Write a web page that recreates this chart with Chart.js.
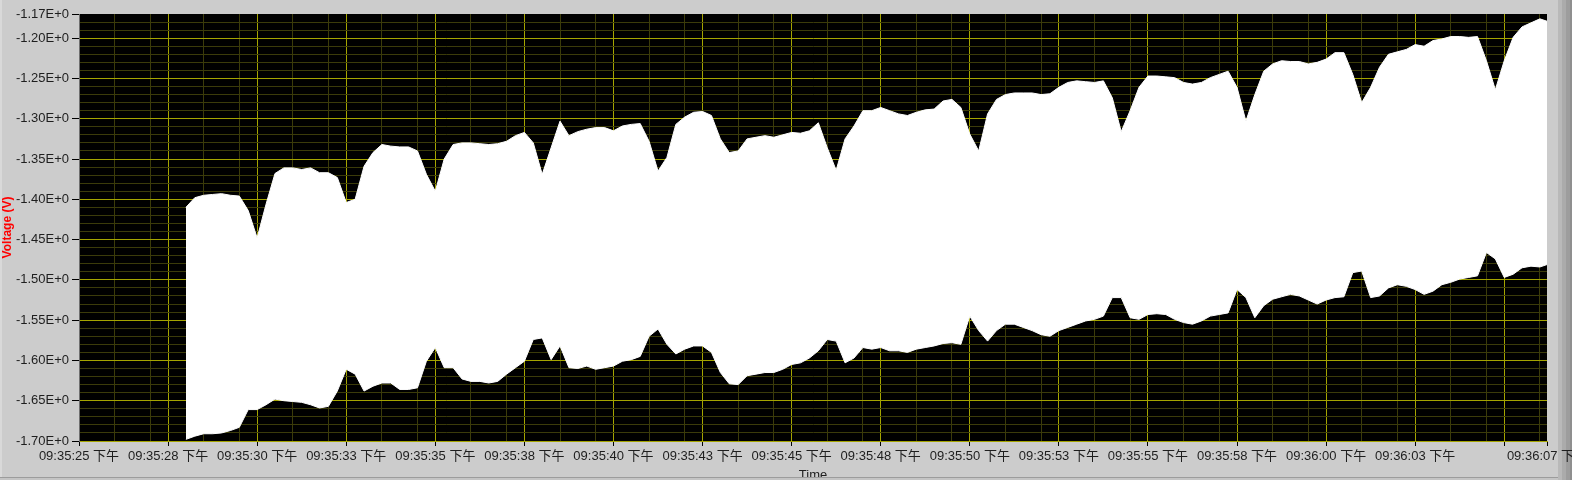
<!DOCTYPE html>
<html>
<head>
<meta charset="utf-8">
<script src="https://cdn.jsdelivr.net/npm/chart.js@4.4.1/dist/chart.umd.min.js"></script>
<style>
  html, body { margin: 0; padding: 0; overflow: hidden; background: #cccccc; }
  canvas { display: block; }
</style>
</head>
<body>
<canvas id="myChart" width="1640" height="480"></canvas>
<script>
// seconds after 09:35:25 下午
const sampleTimes = [
  3, 3.25, 3.5, 3.75, 4, 4.25, 4.5, 4.75, 5, 5.25, 5.5, 5.75, 6, 6.25, 6.5, 6.75,
  7, 7.25, 7.5, 7.75, 8, 8.25, 8.5, 8.75, 9, 9.25, 9.5, 9.75, 10, 10.25, 10.5, 10.75,
  11, 11.25, 11.5, 11.75, 12, 12.25, 12.5, 12.75, 13, 13.25, 13.5, 13.75, 14, 14.25, 14.5, 14.75,
  15, 15.25, 15.5, 15.75, 16, 16.25, 16.5, 16.75, 17, 17.25, 17.5, 17.75, 18, 18.25, 18.5, 18.75,
  19, 19.25, 19.5, 19.75, 20, 20.25, 20.5, 20.75, 21, 21.25, 21.5, 21.75, 22, 22.25, 22.5, 22.75,
  23, 23.25, 23.5, 23.75, 24, 24.25, 24.5, 24.75, 25, 25.25, 25.5, 25.75, 26, 26.25, 26.5, 26.75,
  27, 27.25, 27.5, 27.75, 28, 28.25, 28.5, 28.75, 29, 29.25, 29.5, 29.75, 30, 30.25, 30.5, 30.75,
  31, 31.25, 31.5, 31.75, 32, 32.25, 32.5, 32.75, 33, 33.25, 33.5, 33.75, 34, 34.25, 34.5, 34.75,
  35, 35.25, 35.5, 35.75, 36, 36.25, 36.5, 36.75, 37, 37.25, 37.5, 37.75, 38, 38.25, 38.5, 38.75,
  39, 39.25, 39.5, 39.75, 40, 40.25, 40.5, 40.75, 41, 41.2
];

// upper edge of the signal (V)
const upperVolts = [
  -1.410, -1.398, -1.395, -1.394, -1.393, -1.395, -1.396, -1.414,
  -1.448, -1.406, -1.368, -1.361, -1.361, -1.363, -1.361, -1.367,
  -1.367, -1.373, -1.404, -1.400, -1.359, -1.342, -1.332, -1.334,
  -1.335, -1.335, -1.340, -1.369, -1.390, -1.350, -1.332, -1.330,
  -1.330, -1.331, -1.332, -1.331, -1.328, -1.321, -1.317, -1.330,
  -1.369, -1.336, -1.303, -1.321, -1.316, -1.313, -1.311, -1.311,
  -1.315, -1.309, -1.307, -1.306, -1.328, -1.365, -1.348, -1.307,
  -1.298, -1.292, -1.291, -1.296, -1.325, -1.342, -1.340, -1.325,
  -1.323, -1.321, -1.323, -1.320, -1.317, -1.318, -1.315, -1.305,
  -1.336, -1.364, -1.325, -1.309, -1.290, -1.290, -1.286, -1.290,
  -1.294, -1.296, -1.292, -1.289, -1.288, -1.278, -1.276, -1.286,
  -1.319, -1.340, -1.294, -1.276, -1.270, -1.268, -1.268, -1.268,
  -1.270, -1.269, -1.261, -1.255, -1.253, -1.254, -1.255, -1.253,
  -1.274, -1.316, -1.290, -1.261, -1.247, -1.247, -1.248, -1.249,
  -1.255, -1.257, -1.255, -1.249, -1.245, -1.241, -1.261, -1.303,
  -1.270, -1.241, -1.232, -1.228, -1.229, -1.229, -1.232, -1.230,
  -1.226, -1.218, -1.218, -1.245, -1.280, -1.261, -1.236, -1.220,
  -1.217, -1.214, -1.208, -1.210, -1.203, -1.201, -1.198, -1.198,
  -1.199, -1.198, -1.228, -1.264, -1.228, -1.199, -1.186, -1.181,
  -1.176, -1.179
];

// lower edge of the signal (V)
const lowerVolts = [
  -1.698, -1.694, -1.691, -1.691, -1.690, -1.687, -1.683, -1.661,
  -1.661, -1.655, -1.648, -1.650, -1.651, -1.652, -1.655, -1.659,
  -1.657, -1.638, -1.611, -1.617, -1.638, -1.632, -1.628, -1.628,
  -1.636, -1.636, -1.634, -1.601, -1.584, -1.609, -1.609, -1.623,
  -1.626, -1.626, -1.628, -1.626, -1.617, -1.609, -1.601, -1.574,
  -1.572, -1.599, -1.582, -1.609, -1.610, -1.607, -1.611, -1.609,
  -1.607, -1.601, -1.599, -1.595, -1.570, -1.561, -1.580, -1.592,
  -1.586, -1.582, -1.582, -1.590, -1.615, -1.629, -1.630, -1.619,
  -1.617, -1.615, -1.615, -1.611, -1.605, -1.603, -1.597, -1.588,
  -1.574, -1.576, -1.603, -1.597, -1.584, -1.586, -1.584, -1.588,
  -1.588, -1.590, -1.586, -1.584, -1.582, -1.579, -1.578, -1.580,
  -1.545, -1.563, -1.576, -1.563, -1.555, -1.555, -1.559, -1.563,
  -1.568, -1.570, -1.563, -1.559, -1.555, -1.551, -1.549, -1.545,
  -1.522, -1.522, -1.547, -1.549, -1.543, -1.542, -1.543, -1.549,
  -1.553, -1.555, -1.551, -1.545, -1.543, -1.541, -1.512, -1.522,
  -1.547, -1.532, -1.524, -1.521, -1.518, -1.520, -1.525, -1.530,
  -1.525, -1.522, -1.521, -1.491, -1.489, -1.522, -1.520, -1.510,
  -1.506, -1.508, -1.512, -1.518, -1.514, -1.506, -1.503, -1.499,
  -1.497, -1.495, -1.466, -1.474, -1.497, -1.493, -1.485, -1.483,
  -1.484, -1.481
];

// x axis: major ticks (s) and their labels
const xMajorTicks = [0, 2.5, 5, 7.5, 10, 12.5, 15, 17.5, 20, 22.5, 25, 27.5, 30, 32.5, 35, 37.5, 40];
const xTickLabels = [
  '09:35:25 下午', '09:35:28 下午', '09:35:30 下午', '09:35:33 下午', '09:35:35 下午',
  '09:35:38 下午', '09:35:40 下午', '09:35:43 下午', '09:35:45 下午', '09:35:48 下午',
  '09:35:50 下午', '09:35:53 下午', '09:35:55 下午', '09:35:58 下午', '09:36:00 下午',
  '09:36:03 下午', ''
];
const xEnd = 41.2;
const xEndLabel = '09:36:07 下午';

// y axis
const yMin = -1.70;
const yMax = -1.17;
const yLabelTicks = [-1.17, -1.20, -1.25, -1.30, -1.35, -1.40, -1.45, -1.50, -1.55, -1.60, -1.65, -1.70];

const MAJOR = '#a4a400';
const MINOR = '#3b3b0a';

const key = (v) => Math.round(v * 100);

// x ticks: major, +1 s, +2 s minor lines, and the end of the axis
let xTicks = [];
xMajorTicks.forEach((m) => {
  xTicks.push({value: m, major: true});
  if (m + 1 < xEnd) xTicks.push({value: m + 1, major: false});
  if (m + 2 < xEnd) xTicks.push({value: m + 2, major: false});
});
xTicks.push({value: xEnd, major: true, end: true});

let yTicks = [];
for (let i = key(yMin); i <= key(yMax); i++) {
  yTicks.push({value: i / 100});
}
const yIsLabel = (v) => yLabelTicks.some((t) => key(t) === key(v));
const yIsMajor = (v) => key(v) % 5 === 0;

const xTickInfo = (v) => xTicks.find((t) => Math.abs(t.value - v) < 1e-6) || {};

///////////////////////
// panel background  //
///////////////////////
const panel = {
  id: 'panel',
  beforeDraw(chart) {
    const {ctx, chartArea} = chart;
    ctx.save();
    ctx.fillStyle = '#cccccc';
    ctx.fillRect(0, 0, chart.width, chart.height);
    ctx.fillStyle = '#d9d9d9';
    ctx.fillRect(0, 0, 2, chart.height);
    // frame on the right
    const bands = ['#b9b9b9', '#ababab', '#9d9d9d', '#8f8f8f'];
    bands.forEach((c, i) => {
      ctx.fillStyle = c;
      ctx.fillRect(1558 + i * 4, 0, 4, chart.height);
    });
    ctx.fillStyle = '#000000';
    ctx.fillRect(chartArea.left, chartArea.top, chartArea.right - chartArea.left, chartArea.bottom - chartArea.top);
    ctx.restore();
  },
  afterDraw(chart) {
    const {ctx} = chart;
    ctx.save();
    ctx.fillStyle = '#9c9c9c';
    ctx.fillRect(0, 477, 1558, 1);
    ctx.fillStyle = '#c4c4c4';
    ctx.fillRect(0, 478, 1558, 2);
    ctx.restore();
  }
};

Chart.defaults.font.family = '"Liberation Sans", "Noto Sans CJK SC", sans-serif';
Chart.defaults.font.size = 13;

const myChart = new Chart('myChart', {
  type: 'line',
  data: {
    labels: sampleTimes,
    datasets: [
      {
        label: 'upper',
        data: sampleTimes.map((t, i) => ({x: t, y: upperVolts[i]})),
        borderColor: '#ffffff',
        backgroundColor: '#ffffff',
        borderWidth: 1,
        pointRadius: 0,
        tension: 0,
        fill: '+1'
      },
      {
        label: 'lower',
        data: sampleTimes.map((t, i) => ({x: t, y: lowerVolts[i]})),
        borderColor: '#ffffff',
        backgroundColor: '#ffffff',
        borderWidth: 1,
        pointRadius: 0,
        tension: 0,
        fill: false
      }
    ]
  },
  options: {
    responsive: false,
    animation: false,
    layout: {padding: {left: 0, top: 14, right: 93, bottom: 0}},
    plugins: {
      legend: {display: false},
      tooltip: {enabled: false}
    },
    scales: {
      x: {
        type: 'linear',
        min: 0,
        max: xEnd,
        afterBuildTicks: (scale) => {
          scale.ticks = xTicks.map((t) => ({value: t.value}));
        },
        afterFit: (scale) => { scale.height = 39; },
        border: {display: true, color: MAJOR},
        grid: {
          drawTicks: true,
          tickLength: 5,
          color: (ctx) => {
            const t = xTickInfo(ctx.tick.value);
            if (t.end) return 'rgba(0,0,0,0)';
            return t.major ? MAJOR : MINOR;
          },
          tickColor: (ctx) => (xTickInfo(ctx.tick.value).major ? '#000000' : 'rgba(0,0,0,0)')
        },
        ticks: {
          autoSkip: false,
          maxRotation: 0,
          minRotation: 0,
          padding: 3,
          color: '#1e1e1e',
          callback: (v) => {
            const t = xTickInfo(v);
            if (t.end) return xEndLabel;
            const i = xMajorTicks.findIndex((m) => Math.abs(m - v) < 1e-6);
            return i >= 0 ? xTickLabels[i] : '';
          }
        },
        title: {
          display: true,
          text: 'Time',
          color: '#1e1e1e',
          font: {size: 13},
          padding: {top: 0, bottom: -3}
        }
      },
      y: {
        min: yMin,
        max: yMax,
        afterBuildTicks: (scale) => { scale.ticks = yTicks.map((t) => ({value: t.value})); },
        afterFit: (scale) => { scale.width = 79; },
        border: {display: true, color: '#6e6e6e'},
        grid: {
          drawTicks: true,
          tickLength: 7,
          color: (ctx) => {
            const v = ctx.tick.value;
            if (key(v) === key(yMax)) return 'rgba(0,0,0,0)';
            return yIsMajor(v) ? MAJOR : MINOR;
          },
          tickColor: (ctx) => (yIsLabel(ctx.tick.value) ? '#000000' : 'rgba(0,0,0,0)')
        },
        ticks: {
          autoSkip: false,
          padding: 3,
          color: '#1e1e1e',
          callback: (v) => (yIsLabel(v) ? v.toFixed(2) + 'E+0' : '')
        },
        title: {
          display: true,
          text: 'Voltage (V)',
          color: '#ff0000',
          font: {size: 12, weight: 'bold'},
          padding: {top: 0, bottom: 0}
        }
      }
    }
  },
  plugins: [panel]
});
</script>
</body>
</html>
